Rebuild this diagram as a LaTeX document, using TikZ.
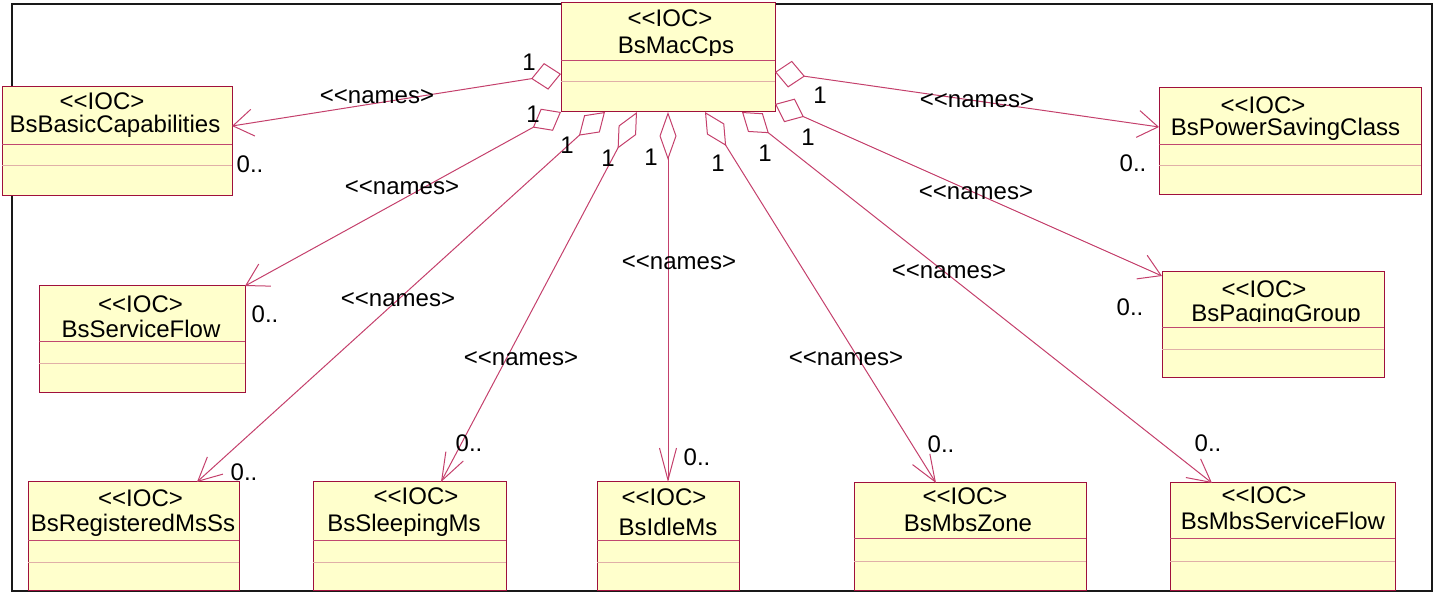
\documentclass[tikz,border=0pt]{standalone}
\usepackage{fontspec}
\newfontfamily\umlfont{Liberation Sans}
\usetikzlibrary{arrows.meta}
\definecolor{classfill}{HTML}{FFFFCC}
\definecolor{classline}{HTML}{A0103C}
\definecolor{linkline}{HTML}{C4406C}
\definecolor{divdark}{HTML}{C04870}
\definecolor{divlight}{HTML}{E0B0A8}
\tikzset{
  iocbox/.style={draw=classline,fill=classfill,line width=0.5pt,outer sep=0pt,inner sep=0pt,anchor=north west},
  lbl/.style={inner sep=0pt,font=\umlfont\fontsize{12}{14}\selectfont},
  assoc/.style n args={3}{draw=linkline,line width=0.5pt,{Diamond[open,length=#1,width=#3]}-{Straight Barb[length=#2,width=#3]}}
}
\begin{document}
\begin{tikzpicture}[x=0.5pt,y=-0.5pt]
\useasboundingbox (0,0) rectangle (1437,593);
\draw[line width=1pt,black!90] (12,4) rectangle (1432,591);

% classes
\node[iocbox,minimum width=107pt,minimum height=54.5pt] (mac) at (561,3) {};
\node[iocbox,minimum width=115pt,minimum height=54.5pt] (basic) at (2,87) {};
\node[iocbox,minimum width=131pt,minimum height=53.5pt] (power) at (1159,88) {};
\node[iocbox,minimum width=103pt,minimum height=53.5pt] (sflow) at (39,286) {};
\node[iocbox,minimum width=111pt,minimum height=53pt] (paging) at (1162,272) {};
\node[iocbox,minimum width=105.5pt,minimum height=54pt] (regms) at (28,482) {};
\node[iocbox,minimum width=96.5pt,minimum height=54pt] (sleep) at (313,482) {};
\node[iocbox,minimum width=71pt,minimum height=54pt] (idle) at (597,482) {};
\node[iocbox,minimum width=116pt,minimum height=53.5pt] (mbsz) at (854,483) {};
\node[iocbox,minimum width=112.5pt,minimum height=53.5pt] (mbssf) at (1170,483) {};
\foreach \b/\da/\db in {mac/61/82,basic/145/166,power/145/166,sflow/342/364,paging/328/350,
  regms/541/563,sleep/541/563,idle/541/563,mbsz/539/562,mbssf/539/562}{
  \draw[divdark,line width=0.5pt] (\b.west |- 0,\da) -- (\b.east |- 0,\da);
  \draw[divlight,line width=0.5pt] (\b.west |- 0,\db) -- (\b.east |- 0,\db);
}

% class texts
\node[lbl,anchor=base] (macst) at (670,27) {<<IOC>};
\begin{scope}
  \clip (561,3) rectangle (775,56);
  \node[lbl,anchor=base] (macnm) at (676,53.5) {BsMacCps};
\end{scope}
\node[lbl,anchor=base] (basicst) at (102,110) {<<IOC>};
\node[lbl,anchor=base] (basicnm) at (115,133) {BsBasicCapabilities};
\node[lbl,anchor=base] (powerst) at (1263,114) {<<IOC>};
\node[lbl,anchor=base] (powernm) at (1285.5,136) {BsPowerSavingClass};
\node[lbl,anchor=base] (sflowst) at (140.5,313) {<<IOC>};
\node[lbl,anchor=base] (sflownm) at (141,338) {BsServiceFlow};
\node[lbl,anchor=base] (pagingst) at (1264,298) {<<IOC>};
\begin{scope}
  \clip (1162,272) rectangle (1384,322);
  \node[lbl,anchor=base] (pagingnm) at (1276,322) {BsPagingGroup};
\end{scope}
\node[lbl,anchor=base] (regmsst) at (140.5,507) {<<IOC>};
\node[lbl,anchor=base] (regmsnm) at (133,531) {BsRegisteredMsSs};
\node[lbl,anchor=base] (sleepst) at (416,505) {<<IOC>};
\node[lbl,anchor=base] (sleepnm) at (404,531) {BsSleepingMs};
\node[lbl,anchor=base] (idlest) at (664,506) {<<IOC>};
\node[lbl,anchor=base] (idlenm) at (668,536) {BsIdleMs};
\node[lbl,anchor=base] (mbszst) at (965,505) {<<IOC>};
\node[lbl,anchor=base] (mbsznm) at (968,531) {BsMbsZone};
\node[lbl,anchor=base] (mbssfst) at (1264,503) {<<IOC>};
\node[lbl,anchor=base] (mbssfnm) at (1283,530) {BsMbsServiceFlow};

% associations
\draw[assoc={15.1pt}{10.1pt}{13.5pt}] (mac.west |- 0,74) -- (basic.east |- 0,126);
\draw[assoc={16.1pt}{10.8pt}{12.6pt}] (mac.south west) -- (sflow.north east);
\draw[assoc={17.6pt}{11.7pt}{11.6pt}] (605,0 |- mac.south) -- (197,0 |- regms.north);
\draw[assoc={20.7pt}{13.8pt}{9.9pt}] (637,0 |- mac.south) -- (441,0 |- sleep.north);
\draw[assoc={24pt}{16pt}{8.5pt}] (668,0 |- mac.south) -- (idle.north);
\draw[assoc={20pt}{13.3pt}{10.2pt}] (705,0 |- mac.south) -- (936,0 |- mbsz.north);
\draw[assoc={17.1pt}{11.4pt}{11.9pt}] (742,0 |- mac.south) -- (1212,0 |- mbssf.north);
\draw[assoc={15.8pt}{10.5pt}{12.9pt}] (mac.east |- 0,104) -- (paging.west |- 0,276);
\draw[assoc={15.1pt}{10.1pt}{13.5pt}] (mac.east |- 0,72) -- (power.west |- 0,127);

% multiplicities and labels
\node[lbl] (m1a) at (529,62) {1};
\node[lbl] (m2a) at (533,114) {1};
\node[lbl] (m3a) at (567,145) {1};
\node[lbl] (m4a) at (608,158) {1};
\node[lbl] (m5a) at (651,157) {1};
\node[lbl] (m6a) at (718,163) {1};
\node[lbl] (m7a) at (765,153) {1};
\node[lbl] (m8a) at (808,137) {1};
\node[lbl] (m9a) at (820,95) {1};
\node[lbl] (n1) at (377,97) {<<names>};
\node[lbl] (n2) at (402,188) {<<names>};
\node[lbl] (n3) at (398,300) {<<names>};
\node[lbl] (n4) at (521,359) {<<names>};
\node[lbl] (n5) at (679,263) {<<names>};
\node[lbl] (n6) at (846,359) {<<names>};
\node[lbl] (n7) at (949,272) {<<names>};
\node[lbl] (n8) at (976,193) {<<names>};
\node[lbl] (n9) at (977,101) {<<names>};
\node[lbl] (m1b) at (250,164) {0..};
\node[lbl] (m2b) at (265,314) {0..};
\node[lbl] (m3b) at (244,472) {0..};
\node[lbl] (m4b) at (469,443) {0..};
\node[lbl] (m5b) at (697,457) {0..};
\node[lbl] (m6b) at (941,444) {0..};
\node[lbl] (m7b) at (1208,443) {0..};
\node[lbl] (m8b) at (1130,307) {0..};
\node[lbl] (m9b) at (1133,163) {0..};
\end{tikzpicture}
\end{document}
